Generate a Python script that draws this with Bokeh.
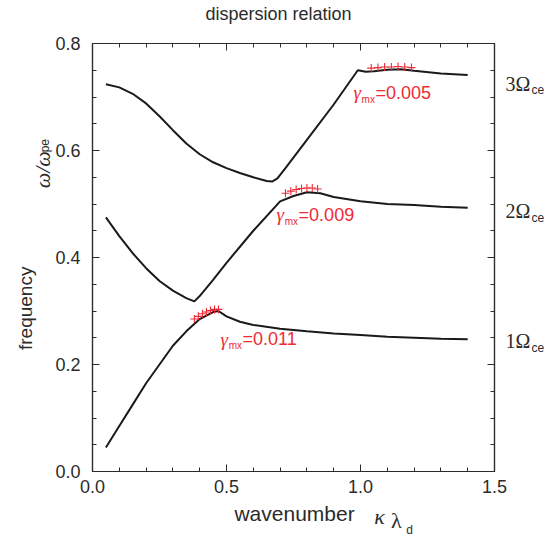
from bokeh.plotting import figure
from bokeh.models import (Range1d, LinearAxis, SingleIntervalTicker, FixedTicker,
                          NumeralTickFormatter, CustomJSTickFormatter, Label)
from bokeh.embed import file_html
from bokeh.resources import INLINE

# ---- data ----
k1 = [0.05, 0.1, 0.15, 0.2, 0.25, 0.3, 0.35, 0.4, 0.45, 0.47, 0.5, 0.55, 0.6, 0.7, 0.8, 0.9, 1.0, 1.1, 1.2, 1.3, 1.4]
w1 = [0.045, 0.085, 0.125, 0.165, 0.2, 0.235, 0.262, 0.285, 0.298, 0.3, 0.29, 0.28, 0.274, 0.267, 0.262, 0.258, 0.255, 0.252, 0.25, 0.248, 0.247]

k2 = [0.05, 0.1, 0.15, 0.2, 0.25, 0.3, 0.35, 0.38, 0.4, 0.45, 0.5, 0.6, 0.7, 0.75, 0.8, 0.85, 0.9, 1.0, 1.1, 1.2, 1.3, 1.4]
w2 = [0.475, 0.44, 0.408, 0.38, 0.356, 0.338, 0.324, 0.318, 0.328, 0.358, 0.39, 0.45, 0.505, 0.515, 0.522, 0.52, 0.513, 0.505, 0.5, 0.498, 0.495, 0.493]

k3 = [0.05, 0.1, 0.15, 0.2, 0.25, 0.3, 0.35, 0.4, 0.45, 0.5, 0.55, 0.6, 0.65, 0.67, 0.69, 0.72, 0.8, 0.9, 0.99, 1.02, 1.05, 1.1, 1.15, 1.2, 1.3, 1.4]
w3 = [0.724, 0.718, 0.706, 0.688, 0.664, 0.638, 0.613, 0.593, 0.578, 0.567, 0.558, 0.55, 0.543, 0.542, 0.548, 0.567, 0.62, 0.686, 0.75, 0.747, 0.748, 0.751, 0.752, 0.749, 0.744, 0.741]

g1_k = [0.38, 0.395, 0.41, 0.425, 0.44, 0.455, 0.47]
g1_w = [0.285, 0.29, 0.295, 0.298, 0.301, 0.303, 0.303]
g2_k = [0.72, 0.74, 0.76, 0.78, 0.80, 0.82, 0.84]
g2_w = [0.52, 0.524, 0.527, 0.529, 0.53, 0.53, 0.528]
g3_k = [1.04, 1.065, 1.09, 1.115, 1.14, 1.165, 1.19]
g3_w = [0.754, 0.755, 0.756, 0.756, 0.757, 0.756, 0.755]

gamma_vals = ["=0.011", "=0.009", "=0.005"]
gamma_pos = [(0.478, 0.247), (0.687, 0.480), (0.974, 0.708)]
harmonic_labels = ["1Ω", "2Ω", "3Ω"]
harmonic_w = [0.243, 0.486, 0.725]
harmonic_sub_w = [0.231, 0.474, 0.713]

TXT = "#2b2b2b"
RED = "#ee2a35"
SANS = "Liberation Sans"
SERIF = "Liberation Serif"

p = figure(frame_width=402, frame_height=428, min_border_left=92, min_border_right=49,
           min_border_top=43, min_border_bottom=62,
           x_range=Range1d(0, 1.5), y_range=Range1d(0, 0.8),
           output_backend="svg", toolbar_location=None)
p.grid.visible = False
p.outline_line_color = TXT
p.outline_line_width = 1.2
p.background_fill_color = "white"
p.border_fill_color = "white"

p.xaxis.ticker = SingleIntervalTicker(interval=0.5, num_minor_ticks=5)
p.yaxis.ticker = SingleIntervalTicker(interval=0.2, num_minor_ticks=4)
top_ax = LinearAxis(ticker=SingleIntervalTicker(interval=0.5, num_minor_ticks=5))
right_ax = LinearAxis(ticker=SingleIntervalTicker(interval=0.2, num_minor_ticks=4))
p.add_layout(top_ax, "above")
p.add_layout(right_ax, "right")

for ax in p.axis:
    ax.axis_line_color = TXT
    ax.axis_line_width = 1.2
    ax.major_tick_line_color = TXT
    ax.minor_tick_line_color = TXT
    ax.major_tick_in = 7
    ax.major_tick_out = 0
    ax.minor_tick_in = 4
    ax.minor_tick_out = 0
    ax.major_label_text_font = SANS
    ax.major_label_text_font_size = "18px"
    ax.major_label_text_color = TXT
    ax.formatter = NumeralTickFormatter(format="0.0")
for ax in (top_ax, right_ax):
    ax.formatter = CustomJSTickFormatter(code="return ''")
    ax.major_label_text_font_size = "0px"
    ax.major_label_standoff = 0
p.below[0].major_label_standoff = 8
p.left[0].major_label_standoff = 12


def text_axis(side, ticks, labels, font, size, standoff, style="normal", color=TXT, orient=None):
    ax = LinearAxis(ticker=FixedTicker(ticks=ticks),
                    formatter=CustomJSTickFormatter(args=dict(labels=labels), code="return labels[index]"))
    ax.axis_line_color = None
    ax.major_tick_line_color = None
    ax.minor_tick_line_color = None
    ax.major_tick_in = 0
    ax.major_tick_out = 0
    ax.major_label_text_font = font
    ax.major_label_text_font_size = size
    ax.major_label_text_font_style = style
    ax.major_label_text_color = color
    ax.major_label_standoff = standoff
    if orient is not None:
        ax.major_label_orientation = orient
    p.add_layout(ax, side)
    return ax


# title (above)
text_axis("above", [0.694], ["dispersion relation"], SANS, "18px", 20)

# y label pieces (left, stacked outward)
text_axis("left", [0.609], ["pe"], SANS, "12px", 0, orient="parallel")
text_axis("left", [0.564], ["ω/ω"], SERIF, "22px", -20, style="italic", orient="parallel")
text_axis("left", [0.305], ["frequency"], SANS, "19px", -9, orient="parallel")

# x label pieces (below)
text_axis("below", [0.754], ["wavenumber"], SANS, "21px", 6)
text_axis("below", [1.071], ["κ"], SERIF, "22px", -24, style="italic")
text_axis("below", [1.134], ["λ"], SERIF, "22px", -24)
text_axis("below", [1.183], ["d"], SANS, "12px", -13)

# harmonic labels (right)
text_axis("right", harmonic_w, harmonic_labels, SERIF, "20px", 11)
text_axis("right", harmonic_sub_w, ["ce", "ce", "ce"], SANS, "12px", -2)

for k, w in ((k1, w1), (k2, w2), (k3, w3)):
    p.line(k, w, line_color="#1a1a1a", line_width=2)

for k, w in ((g1_k, g1_w), (g2_k, g2_w), (g3_k, g3_w)):
    p.scatter(k, w, marker="cross", size=8, line_color=RED, line_width=1.1)


def lab(x, y, text, font=SANS, size="15px", color=TXT, style="normal"):
    p.add_layout(Label(x=x, y=y, text=text, text_font=font, text_font_size=size,
                       text_color=color, text_font_style=style, text_align="left",
                       text_baseline="middle"))


for gv, (gx, gy) in zip(gamma_vals, gamma_pos):
    lab(gx, gy, "γ", font=SERIF, size="19px", color=RED, style="italic")
    lab(gx + 0.030, gy - 0.012, "mx", size="10px", color=RED)
    lab(gx + 0.082, gy, gv, size="18px", color=RED)

open("out.html", "w").write(file_html(p, INLINE))
